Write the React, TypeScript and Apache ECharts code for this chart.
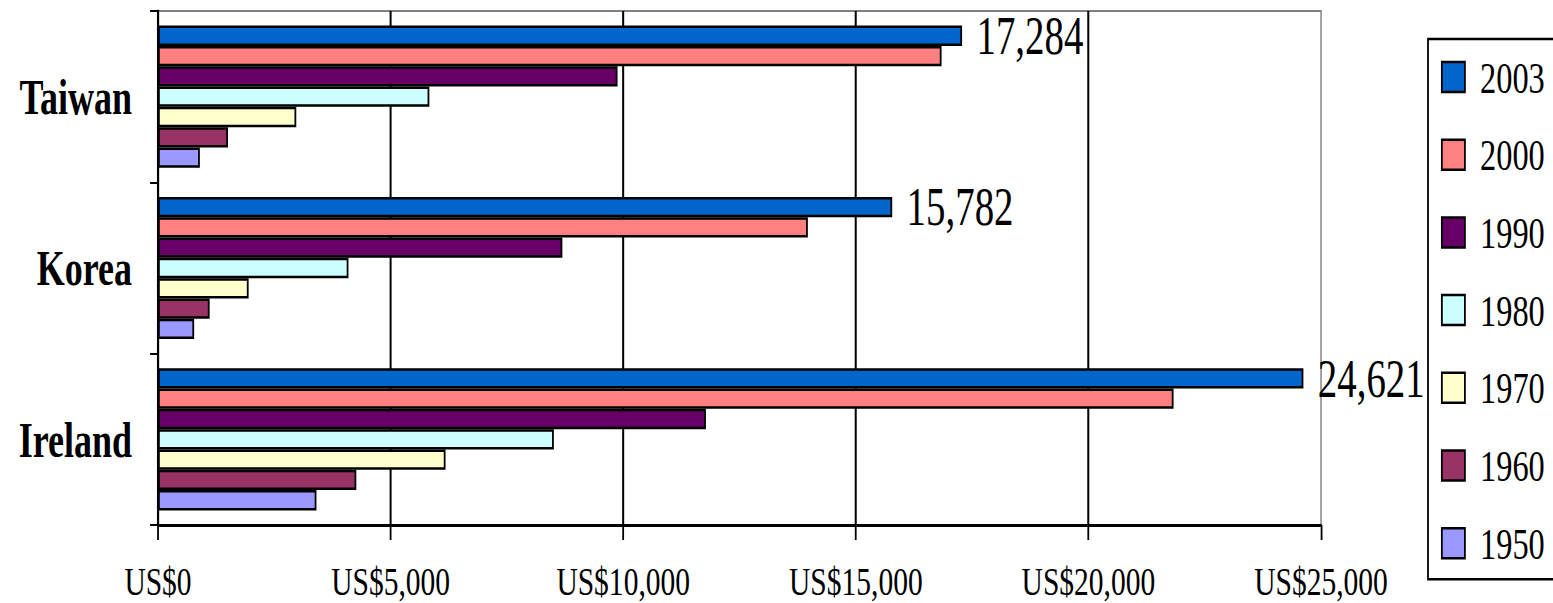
import React, { useEffect, useRef } from "react";
import * as echarts from "echarts";

const categories = ["Ireland", "Korea", "Taiwan"];
const years = ["2003", "2000", "1990", "1980", "1970", "1960", "1950"];
const colors = ["#0066CC", "#FF8080", "#660066", "#CCFFFF", "#FFFFCC", "#993366", "#9999FF"];
// values per year: [Ireland, Korea, Taiwan]
const v2003 = [24621, 15782, 17284];
const v2000 = [21830, 13969, 16843];
const v1990 = [11778, 8692, 9878];
const v1980 = [8509, 4094, 5833];
const v1970 = [6181, 1948, 2972];
const v1960 = [4263, 1110, 1505];
const v1950 = [3406, 777, 900];
const seriesValues = [v2003, v2000, v1990, v1980, v1970, v1960, v1950];
const xTicks = [0, 5000, 10000, 15000, 20000, 25000];

const fmt = (n: number) => n.toLocaleString("en-US");
const FONT = "'Liberation Serif', 'Times New Roman', serif";
const SX = 0.72;
const W = 1553 / SX;
const H = 603;

export default function App() {
  const ref = useRef<HTMLDivElement>(null);
  useEffect(() => {
    if (!ref.current) return;
    const chart = echarts.init(ref.current, null, { renderer: "svg" });
    chart.setOption({
      animation: false,
      backgroundColor: "#ffffff",
      textStyle: { fontFamily: FONT },
      grid: {
        left: 158 / SX,
        right: W - 1321 / SX,
        top: 11,
        bottom: H - 525,
        show: true,
        borderColor: "#808080",
        borderWidth: 2,
      },
      legend: {
        orient: "vertical",
        left: 1428 / SX,
        top: 39,
        data: years,
        icon: "rect",
        itemWidth: 32,
        itemHeight: 30,
        itemGap: 31.7,
        padding: [15, 60, 13, 18],
        borderColor: "#000",
        borderWidth: 2.5,
        textStyle: {
          fontFamily: FONT,
          fontSize: 45,
          lineHeight: 46,
          color: "#000",
          padding: [0, 0, 0, 16],
        },
        itemStyle: { borderColor: "#000", borderWidth: 2.5 },
      },
      xAxis: {
        type: "value",
        min: 0,
        max: 25000,
        interval: 5000,
        axisLine: { show: true, lineStyle: { color: "#000", width: 3 } },
        axisTick: { show: true, length: 15, lineStyle: { color: "#000", width: 2.5 } },
        axisLabel: {
          margin: 36,
          fontFamily: FONT,
          fontSize: 41,
          color: "#000",
          formatter: (v: number) => (xTicks.includes(v) ? "US$" + fmt(v) : ""),
        },
        splitLine: { show: true, showMaxLine: false, lineStyle: { color: "#000", width: 2.8 } },
      },
      yAxis: {
        type: "category",
        data: categories,
        axisLine: { show: true, lineStyle: { color: "#000", width: 3 } },
        axisTick: { show: true, length: 11, lineStyle: { color: "#000", width: 2 } },
        axisLabel: {
          margin: 36,
          fontFamily: FONT,
          fontSize: 50,
          fontWeight: "bold",
          color: "#000",
        },
      },
      series: years.map((y, i) => ({
        name: y,
        type: "bar",
        data: seriesValues[i],
        barGap: "0%",
        barCategoryGap: "17%",
        itemStyle: { color: colors[i], borderColor: "#000", borderWidth: 2.5 },
        label:
          y === "2003"
            ? {
                show: true,
                position: "right",
                distance: 20,
                fontFamily: FONT,
                fontSize: 54,
                color: "#000",
                formatter: (p: any) => fmt(p.value),
              }
            : { show: false },
      })),
    });
    return () => chart.dispose();
  }, []);
  return (
    <div style={{ position: "absolute", left: 0, top: 0, width: 1553, height: 603, overflow: "hidden", background: "#fff" }}>
      <div
        ref={ref}
        style={{ width: W, height: H, transform: `scaleX(${SX})`, transformOrigin: "0 0" }}
      />
    </div>
  );
}
